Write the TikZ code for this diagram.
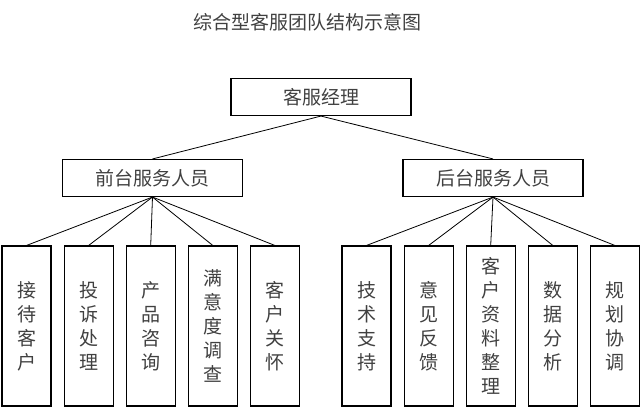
\documentclass[tikz,border=0pt]{standalone}
\usepackage{fontspec}
\newfontfamily\cjk{Noto Sans CJK SC}
\usetikzlibrary{positioning}

\begin{document}
\begin{tikzpicture}[
    x=1pt, y=-1pt,
    node distance=12pt,
    head/.style={rectangle, draw=black, line width=1.1pt, minimum width=180pt, minimum height=37pt, inner sep=0pt, font=\cjk\fontsize{19}{22}\selectfont, text=black!75},
    leaf/.style={rectangle, draw=black, line width=1.1pt, minimum width=49pt, minimum height=160pt, inner sep=0pt, align=center, font=\cjk\fontsize{19}{24}\selectfont, text=black!75},
    link/.style={line width=0.8pt, black},
    ttl/.style={font=\cjk\fontsize{19}{22}\selectfont, text=black!75}
]
\useasboundingbox (0,0) rectangle (640,408);

% --- Title ---
\node[ttl] (title) at (307,22) {综合型客服团队结构示意图};

% --- Top level ---
\node[head] (mgr) at (321,97) {客服经理};

% --- Second level ---
\node[head] (front) at (152.5,178) {前台服务人员};
\node[head] (back) at (493,178) {后台服务人员};

% --- Front desk tasks ---
\node[leaf] (f1) at (26.5,326) {接\\待\\客\\户};
\node[leaf, right=of f1] (f2) {投\\诉\\处\\理};
\node[leaf, right=of f2] (f3) {产\\品\\咨\\询};
\node[leaf, right=of f3] (f4) {满\\意\\度\\调\\查};
\node[leaf, right=of f4] (f5) {客\\户\\关\\怀};

% --- Back office tasks ---
\node[leaf] (b1) at (366.5,326) {技\\术\\支\\持};
\node[leaf, right=of b1] (b2) {意\\见\\反\\馈};
\node[leaf, right=of b2] (b3) {客\\户\\资\\料\\整\\理};
\node[leaf, right=of b3] (b4) {数\\据\\分\\析};
\node[leaf, right=of b4] (b5) {规\\划\\协\\调};

% === Links ===
\draw[link] (mgr.south) -- (front.north);
\draw[link] (mgr.south) -- (back.north);

\draw[link] (front.south) -- (f1.north);
\draw[link] (front.south) -- (f2.north);
\draw[link] (front.south) -- (f3.north);
\draw[link] (front.south) -- (f4.north);
\draw[link] (front.south) -- (f5.north);

\draw[link] (back.south) -- (b1.north);
\draw[link] (back.south) -- (b2.north);
\draw[link] (back.south) -- (b3.north);
\draw[link] (back.south) -- (b4.north);
\draw[link] (back.south) -- (b5.north);

\end{tikzpicture}
\end{document}
